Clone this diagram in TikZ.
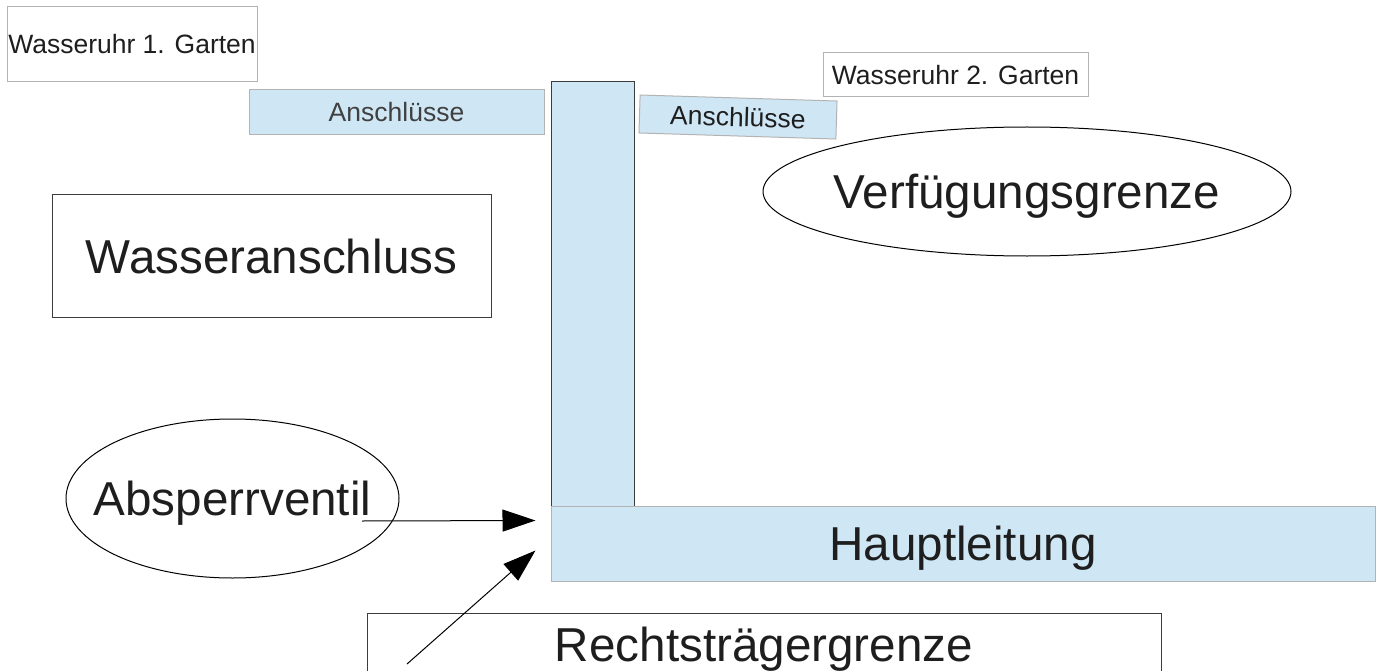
\documentclass[tikz,border=0pt]{standalone}
\usepackage{fontspec}
\setmainfont{Liberation Sans}
\usetikzlibrary{shapes.geometric, arrows.meta, calc}

\definecolor{rohrblau}{RGB}{207,231,245}
\definecolor{randhell}{RGB}{179,179,179}
\definecolor{randdunkel}{RGB}{60,60,60}
\definecolor{schrift}{RGB}{30,30,30}

\newcommand{\schriftgross}{\fontsize{47.6}{57}\selectfont}
\newcommand{\schriftklein}{\fontsize{26.5}{32}\selectfont}

\begin{document}
\begin{tikzpicture}[x=1pt, y=-1pt, line width=1pt,
        gross/.style={font=\schriftgross, text height=34pt, text depth=0pt},
        klein/.style={font=\schriftklein, text height=19pt, text depth=0pt},
        kasten/.style={rectangle, draw=randhell, inner sep=0pt, klein, text=schrift},
        grosskasten/.style={rectangle, draw=randdunkel, inner sep=0pt, gross, text=schrift},
        rohr/.style={rectangle, fill=rohrblau, draw=randhell, inner sep=0pt, text=schrift},
        oval/.style={ellipse, draw=black, inner xsep=-40pt, inner ysep=0pt, gross, text=schrift},
        pfeil/.style={-{Triangle[length=33pt, width=22pt]}, draw=black}]

        \useasboundingbox (0,0) rectangle (1383,671);

        % Wasseruhren
        \node[kasten, minimum width=250pt, minimum height=75pt] (uhr1) at (132,44.5) {Wasseruhr 1. Garten};
        \node[kasten, minimum width=265pt, minimum height=44pt] (uhr2) at (955.5,75) {Wasseruhr 2. Garten};

        % Leitungen
        \node[rohr, draw=randdunkel, minimum width=83pt, minimum height=424pt] (steig) at (592.5,294) {};
        \node[rohr, gross, minimum width=824pt, minimum height=75pt] (haupt) at (963,543.5) {Hauptleitung};
        \node[rohr, klein, text=black!75, minimum width=295pt, minimum height=45pt] (anschl1) at (396.5,112) {Anschlüsse};
        \node[rohr, klein, rotate=-1.75, minimum width=197pt, minimum height=38pt] (anschl2) at (738,117) {Anschlüsse};

        % Grenzen und Beschriftungen
        \node[oval, minimum width=528pt, minimum height=129pt] (verfueg) at (1027,191.5) {Verfügungsgrenze};
        \node[grosskasten, minimum width=439pt, minimum height=122pt] (wanschl) at (271.5,256) {Wasseranschluss};
        \node[oval, minimum width=333pt, minimum height=159pt] (ventil) at (232.5,498.5) {Absperrventil};
        \node[grosskasten, anchor=north, minimum width=794pt, minimum height=61pt] (recht) at (764,613) {Rechtsträgergrenze};

        % Pfeile
        \coordinate (vstart) at (362,521);
        \coordinate (rstart) at (407,664);
        \draw[pfeil] (vstart) -- ($(haupt.north west)+(-15,15)$);
        \draw[pfeil] (rstart) -- ($(haupt.north west)+(-15,45)$);
    \end{tikzpicture}
\end{document}
